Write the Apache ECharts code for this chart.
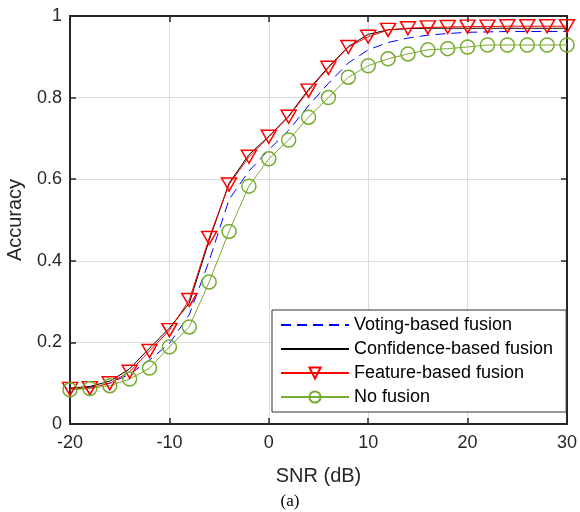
<!DOCTYPE html>
<html><head><meta charset="utf-8">
<script src="https://cdn.jsdelivr.net/npm/echarts@6/dist/echarts.min.js"></script>
<style>html,body{margin:0;padding:0;background:#fff}#c{width:580px;height:512px}</style>
</head><body><div id="c"></div>
<script>
const snr = [-20,-18,-16,-14,-12,-10,-8,-6,-4,-2,0,2,4,6,8,10,12,14,16,18,20,22,24,26,28,30];
const voting = [0.085,0.09,0.10,0.122,0.157,0.197,0.268,0.40,0.55,0.62,0.672,0.72,0.78,0.835,0.885,0.917,0.935,0.946,0.953,0.957,0.96,0.961,0.962,0.962,0.962,0.962];
const confidence = [0.088,0.092,0.105,0.135,0.186,0.235,0.296,0.45,0.59,0.66,0.705,0.755,0.82,0.875,0.925,0.955,0.966,0.969,0.97,0.97,0.97,0.97,0.97,0.97,0.97,0.97];
const feature = [0.086,0.088,0.10,0.128,0.179,0.23,0.304,0.456,0.587,0.655,0.704,0.753,0.817,0.873,0.924,0.949,0.966,0.97,0.972,0.973,0.974,0.974,0.975,0.975,0.975,0.975];
const nofusion = [0.084,0.087,0.094,0.11,0.137,0.189,0.238,0.348,0.472,0.583,0.65,0.696,0.752,0.80,0.85,0.878,0.895,0.907,0.917,0.92,0.924,0.929,0.929,0.929,0.929,0.929];
const names = ['Voting-based fusion','Confidence-based fusion','Feature-based fusion','No fusion'];

const pair = arr => snr.map((x,i)=>[x,arr[i]]);
const font = 'Liberation Sans, Arial, sans-serif';
const axisCol = '#262626';
const noMark = {color:'rgba(0,0,0,0)',borderColor:'rgba(0,0,0,0)',borderWidth:0};
const chart = echarts.init(document.getElementById('c'), null, {renderer:'canvas'});
chart.setOption({
  animation:false,
  backgroundColor:'#fff',
  grid:{left:70,top:16,right:13,bottom:88,containLabel:false,outerBoundsMode:'none'},
  title:{text:'(a)',left:'center',top:493,padding:0,
    textStyle:{fontFamily:'Liberation Serif, Times New Roman, serif',fontSize:17,fontWeight:'normal',color:'#000'}},
  legend:{
    orient:'vertical', left:272, top:310,
    data:[{name:names[0],itemStyle:noMark},{name:names[1],itemStyle:noMark},{name:names[2]},{name:names[3]}],
    itemWidth:68, itemHeight:14, itemGap:4,
    backgroundColor:'#fff', borderColor:'#333', borderWidth:1, padding:[5,13,5,8],
    textStyle:{fontFamily:font,fontSize:18,color:'#000',lineHeight:20}
  },
  xAxis:[{
    type:'value', min:-20, max:30, interval:10,
    name:'SNR (dB)', nameLocation:'middle', nameGap:42,
    nameTextStyle:{fontFamily:font,fontSize:20,color:'#262626'},
    axisLine:{onZero:false,lineStyle:{color:axisCol,width:2}},
    axisTick:{inside:true,length:6,lineStyle:{color:axisCol,width:1.5}},
    axisLabel:{fontFamily:font,fontSize:18,color:'#262626',margin:10},
    splitLine:{show:true,lineStyle:{color:'#dcdcdc',width:1}}
  },{
    type:'value', min:-20, max:30, interval:10, position:'top',
    axisLine:{onZero:false,lineStyle:{color:axisCol,width:2}},
    axisTick:{inside:true,length:6,lineStyle:{color:axisCol,width:1.5}},
    axisLabel:{show:false}, splitLine:{show:false}
  }],
  yAxis:[{
    type:'value', min:0, max:1, interval:0.2,
    name:'Accuracy', nameLocation:'middle', nameGap:45,
    nameTextStyle:{fontFamily:font,fontSize:20,color:'#262626'},
    axisLine:{show:true,onZero:false,lineStyle:{color:axisCol,width:2}},
    axisTick:{show:true,inside:true,length:6,lineStyle:{color:axisCol,width:1.5}},
    axisLabel:{fontFamily:font,fontSize:18,color:'#262626',margin:8,
      formatter:v=>String(Math.round(v*10)/10)},
    splitLine:{show:true,lineStyle:{color:'#dcdcdc',width:1}}
  },{
    type:'value', min:0, max:1, interval:0.2, position:'right',
    axisLine:{show:true,onZero:false,lineStyle:{color:axisCol,width:2}},
    axisTick:{show:true,inside:true,length:6,lineStyle:{color:axisCol,width:1.5}},
    axisLabel:{show:false}, splitLine:{show:false}
  }],
  series:[
    {name:names[0],type:'line',data:pair(voting),symbol:'none',
      lineStyle:{color:'#0000ff',width:1,type:[10,6]},itemStyle:{color:'#0000ff'}},
    {name:names[1],type:'line',data:pair(confidence),symbol:'none',
      lineStyle:{color:'#000',width:1},itemStyle:{color:'#000'}},
    {name:names[2],type:'line',data:pair(feature),symbol:'triangle',symbolRotate:180,symbolSize:[15,13],
      lineStyle:{color:'#ff0000',width:1},itemStyle:{color:'rgba(255,255,255,0)',borderColor:'#ff0000',borderWidth:1.5}},
    {name:names[3],type:'line',data:pair(nofusion),symbol:'circle',symbolSize:14,
      lineStyle:{color:'#77ac30',width:1},itemStyle:{color:'rgba(255,255,255,0)',borderColor:'#77ac30',borderWidth:1.5}}
  ]
});
</script></body></html>
